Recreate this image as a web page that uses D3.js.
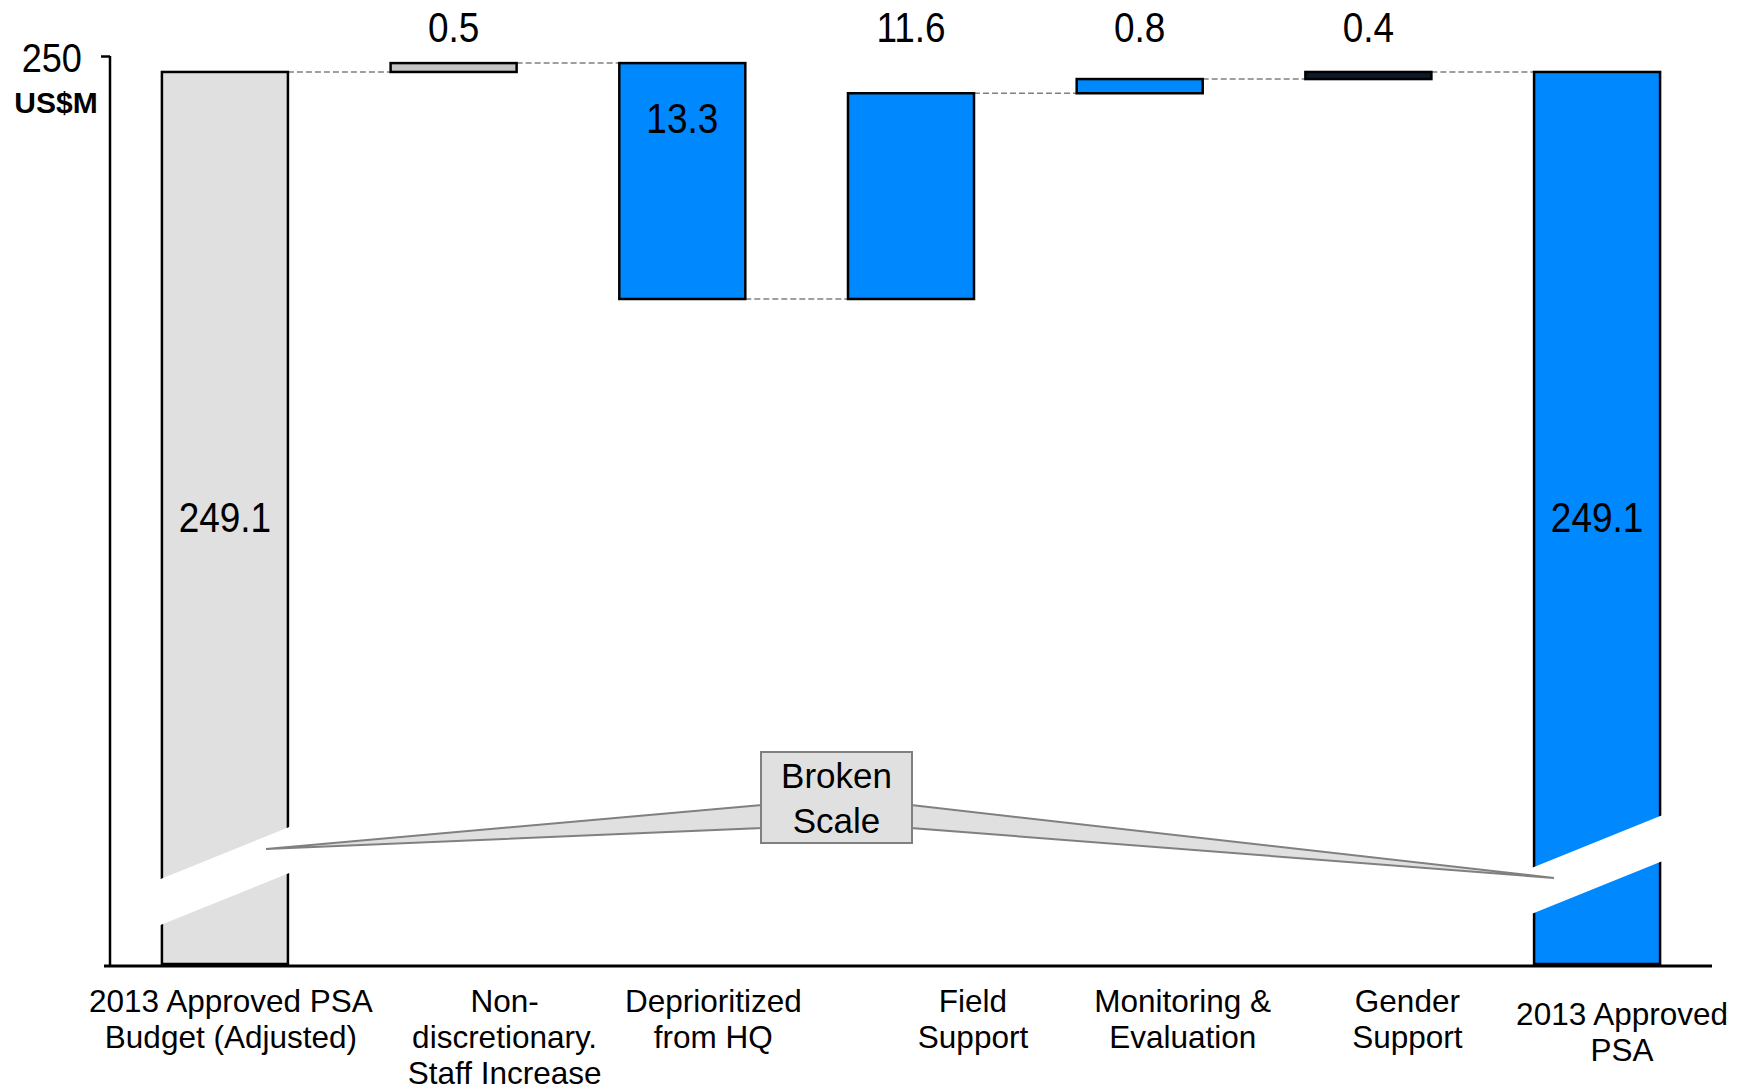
<!DOCTYPE html>
<html>
<head>
<meta charset="utf-8">
<script src="https://cdn.jsdelivr.net/npm/d3@7"></script>
<style>
  html, body { margin: 0; padding: 0; background: #fff; }
  svg { display: block; }
  text { font-family: "Liberation Sans", Arial, Helvetica, sans-serif; fill: #000; }
</style>
</head>
<body>
<script>
// ---- data -------------------------------------------------------------
const categories = [
  "2013 Approved PSA\nBudget (Adjusted)",
  "Non-\ndiscretionary.\nStaff Increase",
  "Deprioritized\nfrom HQ",
  "Field\nSupport",
  "Monitoring &\nEvaluation",
  "Gender\nSupport",
  "2013 Approved\nPSA"
];
const openingTotal = 249.1;                 // US$M
const changes = [0.5, -13.3, 11.6, 0.8, 0.4]; // US$M, one per middle category
const closingTotal = 249.1;                 // US$M
const yTickValues = [250];
const unitLabel = "US$M";
const breakNote = ["Broken", "Scale"];

// ---- styling / layout -------------------------------------------------
const W = 1748, H = 1090;
const baselineY = 966;          // x-axis line (bottom of the broken scale)
const axisX = 110;
const fills = ["#e0e0e0", "#c4c4c4", "#0088ff", "#0088ff", "#0088ff", "#0b1a2a", "#0088ff"];
const labelDx = [6, 51, 31, 62, 43, 39, 25];
const labelTop = [1012, 1012, 1012, 1012, 1012, 1012, 1025];
const labelLine = 36;
const fmt = d3.format(".1f");

// ---- waterfall steps --------------------------------------------------
const steps = [];
let run = openingTotal;
steps.push({ kind: "total", value: openingTotal, hi: openingTotal, end: openingTotal });
changes.forEach(c => {
  const from = run;
  run = +(run + c).toFixed(1);
  steps.push({ kind: c < 0 ? "down" : "up", value: c, lo: Math.min(from, run), hi: Math.max(from, run), end: run });
});
steps.push({ kind: "total", value: closingTotal, hi: closingTotal, end: closingTotal });
steps.forEach((s, i) => { s.cat = categories[i]; s.i = i; });

// ---- scales -----------------------------------------------------------
const x = d3.scaleBand()
  .domain(categories)
  .range([axisX, 1712])
  .paddingInner(0.449)
  .paddingOuter(0.227);

const yLow = d3.min(steps.filter(s => s.kind !== "total"), s => s.lo);
const y = d3.scaleLinear()
  .domain([yLow, d3.max(yTickValues)])
  .range([299, 56]);

const svg = d3.select("body").append("svg")
  .attr("width", W).attr("height", H);

// ---- connectors (dashed) ----------------------------------------------
svg.append("g").selectAll("line")
  .data(steps.slice(0, -1))
  .join("line")
  .attr("x1", d => x(d.cat) + x.bandwidth())
  .attr("x2", d => x(categories[d.i + 1]))
  .attr("y1", d => y(d.end))
  .attr("y2", d => y(d.end))
  .attr("stroke", "#808080")
  .attr("stroke-width", 1.5)
  .attr("stroke-dasharray", "6,3");

// ---- bars -------------------------------------------------------------
svg.append("g").selectAll("rect")
  .data(steps)
  .join("rect")
  .attr("x", d => x(d.cat))
  .attr("width", x.bandwidth())
  .attr("y", d => y(d.hi))
  .attr("height", d => d.kind === "total" ? (baselineY - 2) - y(d.hi) : y(d.lo) - y(d.hi))
  .attr("fill", (d, i) => fills[i])
  .attr("stroke", "#000")
  .attr("stroke-width", 2.5);

// ---- scale-break bands across the two total bars ----------------------
const breakCentre = [876, null, null, null, null, null, 864.5];
const slope = -0.405, halfGap = 23;
svg.append("g").selectAll("path")
  .data(steps.filter(s => breakCentre[s.i] != null))
  .join("path")
  .attr("d", d => {
    const cx = x(d.cat) + x.bandwidth() / 2;
    const cy = breakCentre[d.i];
    const xl = x(d.cat) - 10, xr = x(d.cat) + x.bandwidth() + 10;
    const yl = cy + slope * (xl - cx), yr = cy + slope * (xr - cx);
    return `M${xl},${yl - halfGap}L${xr},${yr - halfGap}L${xr},${yr + halfGap}L${xl},${yl + halfGap}Z`;
  })
  .attr("fill", "#fff");

// ---- axes -------------------------------------------------------------
svg.append("line")
  .attr("x1", axisX).attr("x2", axisX)
  .attr("y1", y(d3.max(yTickValues))).attr("y2", baselineY)
  .attr("stroke", "#000").attr("stroke-width", 2.5);

const yAxis = svg.append("g")
  .attr("transform", `translate(${axisX},0)`)
  .call(d3.axisLeft(y).tickValues(yTickValues).tickSize(9).tickSizeOuter(0).tickFormat(d3.format("d")));
yAxis.select(".domain").remove();
yAxis.selectAll(".tick line").attr("stroke", "#000").attr("stroke-width", 2.5);
yAxis.selectAll(".tick text")
  .attr("font-family", "'Liberation Sans', Arial, sans-serif")
  .attr("font-size", 41)
  .attr("fill", "#000")
  .attr("x", -32)
  .attr("dy", "0.38em")
  .attr("transform", "scale(0.88,1)");

svg.append("text")
  .attr("x", 56).attr("y", 113)
  .attr("text-anchor", "middle")
  .attr("font-size", 30)
  .attr("font-weight", "bold")
  .text(unitLabel);

svg.append("line")
  .attr("x1", 104).attr("x2", 1712)
  .attr("y1", baselineY).attr("y2", baselineY)
  .attr("stroke", "#000").attr("stroke-width", 3);

// ---- category labels --------------------------------------------------
const catG = svg.append("g").selectAll("text")
  .data(steps)
  .join("text")
  .attr("text-anchor", "middle")
  .attr("font-size", 31.5)
  .attr("x", d => x(d.cat) + x.bandwidth() / 2 + labelDx[d.i])
  .attr("y", d => labelTop[d.i]);
catG.selectAll("tspan")
  .data(d => d.cat.split("\n").map(t => ({ t, d })))
  .join("tspan")
  .attr("x", o => x(o.d.cat) + x.bandwidth() / 2 + labelDx[o.d.i])
  .attr("dy", (o, j) => j === 0 ? 0 : labelLine)
  .text(o => o.t);

// ---- value labels -----------------------------------------------------
function valuePos(d) {
  const cx = x(d.cat) + x.bandwidth() / 2;
  if (d.kind === "total") return [cx, (y(d.hi) + baselineY) / 2 + 13];
  if (d.kind === "down") return [cx, y(d.hi) + 70];
  return [cx, 42];
}
svg.append("g").selectAll("text")
  .data(steps)
  .join("text")
  .attr("text-anchor", "middle")
  .attr("font-size", 42)
  .attr("transform", d => { const p = valuePos(d); return `translate(${p[0]},${p[1]}) scale(0.88,1)`; })
  .text(d => fmt(Math.abs(d.value)));

// ---- "Broken Scale" callout -------------------------------------------
const box = { x0: 761, x1: 912, y0: 752, y1: 843 };
const wedgeY = [805, 828];
const tips = [[266, 849], [1554, 878]];
const callout = svg.append("g");
callout.append("path")
  .attr("d", `M${box.x0 + 1},${wedgeY[0]}L${tips[0][0]},${tips[0][1]}L${box.x0 + 1},${wedgeY[1]}Z`)
  .attr("fill", "#e0e0e0").attr("stroke", "#808080").attr("stroke-width", 2).attr("stroke-linejoin", "miter");
callout.append("path")
  .attr("d", `M${box.x1 - 1},${wedgeY[0]}L${tips[1][0]},${tips[1][1]}L${box.x1 - 1},${wedgeY[1]}Z`)
  .attr("fill", "#e0e0e0").attr("stroke", "#808080").attr("stroke-width", 2).attr("stroke-linejoin", "miter");
callout.append("rect")
  .attr("x", box.x0).attr("y", box.y0)
  .attr("width", box.x1 - box.x0).attr("height", box.y1 - box.y0)
  .attr("fill", "#e0e0e0").attr("stroke", "#808080").attr("stroke-width", 2);
callout.selectAll("text")
  .data(breakNote)
  .join("text")
  .attr("text-anchor", "middle")
  .attr("font-size", 35)
  .attr("x", (box.x0 + box.x1) / 2)
  .attr("y", (d, i) => 788 + i * 45)
  .text(d => d);
</script>
</body>
</html>
